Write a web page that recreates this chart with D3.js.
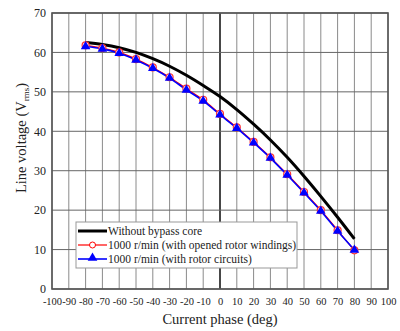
<!DOCTYPE html>
<html>
<head>
<meta charset="utf-8">
<script src="https://cdn.jsdelivr.net/npm/d3@7"></script>
<style>
  body { margin: 0; background: #fff; }
  text { font-family: "Liberation Serif", "Times New Roman", serif; fill: #222; }
</style>
</head>
<body>
<svg id="chart"></svg>
<script>
  // data
  var phase = [-80, -70, -60, -50, -40, -30, -20, -10, 0, 10, 20, 30, 40, 50, 60, 70, 80];
  var noBypass = [62.5, 62.0, 61.2, 60.0, 58.4, 56.5, 54.2, 51.6, 48.8, 45.5, 41.8, 37.8, 33.4, 28.6, 23.5, 18.2, 12.7];
  var openedRotor = [61.8, 61.1, 60.0, 58.3, 56.2, 53.7, 50.8, 48.0, 44.4, 41.0, 37.3, 33.4, 29.1, 24.6, 20.0, 14.9, 9.8];
  var rotorCircuits = [61.5, 60.9, 59.8, 58.1, 56.0, 53.5, 50.5, 47.7, 44.2, 40.8, 37.1, 33.2, 28.9, 24.4, 19.8, 14.7, 9.9];
  var xTicks = d3.range(-100, 101, 10);
  var yTicks = d3.range(0, 71, 10);
  var legendNames = ['Without bypass core', '1000 r/min (with opened rotor windings)', '1000 r/min (with rotor circuits)'];

  var W = 400, H = 331;
  var margin = { top: 13, right: 12, bottom: 42, left: 52 };
  var width = W - margin.left - margin.right,
    height = H - margin.top - margin.bottom;

  var svg = d3.select('#chart').attr('width', W).attr('height', H);
  var g = svg.append('g').attr('transform', 'translate(' + margin.left + ',' + margin.top + ')');

  var x = d3.scaleLinear().domain([-100, 100]).range([0, width]);
  var y = d3.scaleLinear().domain([0, 70]).range([height, 0]);

  // grid
  g.selectAll('.vgrid').data(xTicks).enter().append('line')
    .attr('x1', d => x(d)).attr('x2', d => x(d))
    .attr('y1', 0).attr('y2', height)
    .attr('stroke', d => d === 0 ? '#333' : '#8a8a8a')
    .attr('stroke-width', d => d === 0 ? 1.8 : 1);
  g.selectAll('.hgrid').data(yTicks).enter().append('line')
    .attr('x1', 0).attr('x2', width)
    .attr('y1', d => y(d)).attr('y2', d => y(d))
    .attr('stroke', '#666').attr('stroke-width', 1);

  g.append('rect').attr('width', width).attr('height', height)
    .attr('fill', 'none').attr('stroke', '#555').attr('stroke-width', 1.6);

  // axes
  var xAxis = d3.axisBottom(x).tickValues(xTicks).tickFormat(d => String(d)).tickSize(0).tickPadding(9);
  var gx = g.append('g').attr('transform', 'translate(0,' + height + ')').call(xAxis);
  gx.select('.domain').remove();
  gx.selectAll('text').style('font-size', '10.5px').style('font-family', '"Liberation Serif", serif').attr('fill', '#222');

  var yAxis = d3.axisLeft(y).tickValues(yTicks).tickFormat(d => String(d)).tickSize(0).tickPadding(6);
  var gy = g.append('g').call(yAxis);
  gy.select('.domain').remove();
  gy.selectAll('text').style('font-size', '12px').style('font-family', '"Liberation Serif", serif').attr('fill', '#222');

  svg.append('text').attr('x', margin.left + width / 2).attr('y', 324)
    .attr('text-anchor', 'middle').style('font-size', '14.5px').text('Current phase (deg)');

  var yl = svg.append('text').attr('transform', 'translate(26,138) rotate(-90)')
    .attr('text-anchor', 'middle').style('font-size', '14.5px');
  yl.append('tspan').text('Line voltage (V');
  yl.append('tspan').text('rms').style('font-size', '9px').attr('dy', 3);
  yl.append('tspan').text(')').attr('dy', -3);

  // series
  var line = d3.line().x((d, i) => x(phase[i])).y(d => y(d)).curve(d3.curveMonotoneX);

  g.append('path').datum(noBypass).attr('d', line)
    .attr('fill', 'none').attr('stroke', '#000').attr('stroke-width', 3);

  g.append('path').datum(openedRotor).attr('d', line)
    .attr('fill', 'none').attr('stroke', '#f00').attr('stroke-width', 1.2);
  g.append('path').datum(rotorCircuits).attr('d', line)
    .attr('fill', 'none').attr('stroke', '#00f').attr('stroke-width', 1.6);

  g.selectAll('.circ').data(openedRotor).enter().append('circle')
    .attr('cx', (d, i) => x(phase[i])).attr('cy', d => y(d)).attr('r', 3.5)
    .attr('fill', '#fff').attr('stroke', '#f33').attr('stroke-width', 1.2);

  var tri = d3.symbol().type(d3.symbolTriangle).size(40);
  g.selectAll('.tri').data(rotorCircuits).enter().append('path')
    .attr('d', tri)
    .attr('transform', (d, i) => 'translate(' + x(phase[i]) + ',' + y(d) + ')')
    .attr('fill', '#00f');

  // legend
  var lg = svg.append('g').attr('transform', 'translate(76,222)');
  lg.append('rect').attr('width', 221).attr('height', 46)
    .attr('fill', '#fff').attr('stroke', '#999').attr('stroke-width', 1);
  var rows = [9, 23, 37];
  lg.append('line').attr('x1', 2).attr('x2', 31).attr('y1', rows[0]).attr('y2', rows[0])
    .attr('stroke', '#000').attr('stroke-width', 3);
  lg.append('line').attr('x1', 2).attr('x2', 31).attr('y1', rows[1]).attr('y2', rows[1])
    .attr('stroke', '#f00').attr('stroke-width', 1.2);
  lg.append('circle').attr('cx', 16.5).attr('cy', rows[1]).attr('r', 3)
    .attr('fill', '#fff').attr('stroke', '#f00');
  lg.append('line').attr('x1', 2).attr('x2', 31).attr('y1', rows[2]).attr('y2', rows[2])
    .attr('stroke', '#00f').attr('stroke-width', 1.6);
  lg.append('path').attr('d', tri).attr('transform', 'translate(16.5,' + (rows[2] - 1) + ')').attr('fill', '#00f');
  lg.selectAll('.lt').data(legendNames).enter().append('text')
    .attr('x', 32).attr('y', (d, i) => rows[i] + 4)
    .style('font-size', '11.5px').text(d => d);
</script>
</body>
</html>
